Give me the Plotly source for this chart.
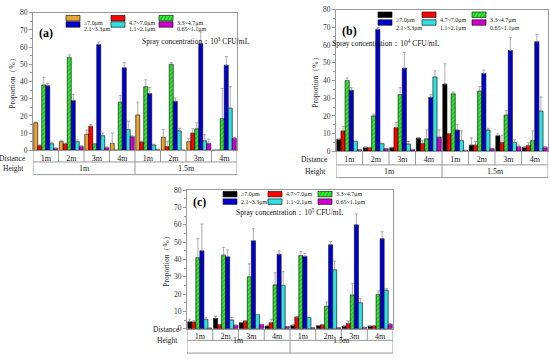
import plotly.graph_objects as go

distances = ["1m", "2m", "3m", "4m", "1m", "2m", "3m", "4m"]
heights = ["1m", "1.5m"]
series_names = ["≥7.0μm", "4.7~7.0μm", "3.3~4.7μm", "2.1~3.3μm", "1.1~2.1μm", "0.65~1.1μm"]

a_vals = [
    [16.0, 5.0, 9.3, 4.0, 20.5, 7.5, 5.0, 0.0],
    [2.7, 3.7, 14.0, 0.0, 4.8, 2.2, 10.0, 0.0],
    [38.0, 54.0, 3.7, 28.0, 37.0, 50.0, 12.5, 18.5],
    [37.5, 29.0, 61.5, 48.0, 33.0, 28.5, 62.0, 49.5],
    [3.8, 5.0, 8.5, 12.0, 3.0, 11.3, 5.5, 24.5],
    [1.2, 2.2, 1.5, 8.0, 0.5, 0.0, 4.0, 7.0],
]
a_err = [
    [0.5, 0.8, 2.5, 6.0, 7.5, 4.5, 2.0, 0.0],
    [0.5, 0.5, 1.0, 0.0, 0.5, 3.0, 2.5, 0.0],
    [4.5, 1.5, 0.0, 4.0, 4.0, 1.0, 3.5, 17.5],
    [1.5, 3.5, 1.5, 3.0, 3.5, 2.0, 7.0, 5.0],
    [0.8, 1.0, 1.5, 5.0, 0.5, 1.5, 3.5, 12.5],
    [0.0, 0.5, 0.5, 0.5, 0.0, 0.0, 2.5, 0.5],
]
b_vals = [
    [6.8, 2.0, 2.0, 7.5, 38.0, 3.5, 8.8, 2.3],
    [11.5, 2.0, 13.3, 4.5, 10.0, 3.5, 5.0, 3.3],
    [40.0, 20.0, 32.0, 7.0, 32.5, 34.0, 20.5, 6.0],
    [34.5, 69.0, 47.0, 30.5, 12.0, 44.0, 57.0, 62.0],
    [5.5, 4.3, 4.0, 42.0, 6.0, 12.0, 5.0, 22.7],
    [0.8, 1.5, 1.0, 8.0, 0.5, 1.5, 2.5, 2.3],
]
b_err = [
    [0.0, 0.5, 0.3, 0.0, 11.5, 4.0, 1.0, 0.0],
    [2.5, 0.3, 3.0, 1.5, 0.0, 2.0, 4.0, 1.5],
    [1.5, 1.0, 4.0, 5.0, 1.0, 2.5, 2.5, 5.5],
    [1.5, 1.0, 9.0, 1.5, 3.0, 2.0, 7.5, 4.0],
    [0.3, 0.3, 1.5, 3.5, 5.5, 1.0, 1.5, 8.0],
    [0.0, 0.0, 0.0, 4.0, 0.0, 0.0, 1.0, 0.0],
]
c_vals = [
    [4.0, 6.0, 3.5, 1.5, 2.0, 1.8, 1.5, 1.5],
    [3.8, 2.3, 4.5, 3.5, 6.8, 2.3, 3.0, 1.5],
    [41.0, 42.5, 30.0, 25.3, 42.3, 13.0, 19.5, 19.8],
    [45.0, 41.5, 50.8, 43.0, 41.8, 48.5, 60.0, 52.0],
    [5.3, 5.0, 8.2, 25.0, 6.5, 34.0, 15.0, 22.3],
    [0.3, 2.0, 2.5, 1.3, 0.5, 0.5, 0.8, 2.5],
]
c_err = [
    [1.5, 1.3, 0.0, 0.5, 0.0, 0.0, 0.0, 0.0],
    [0.8, 0.0, 0.0, 2.0, 0.0, 0.0, 1.5, 0.3],
    [11.0, 4.5, 7.5, 7.0, 2.3, 2.5, 6.5, 2.0],
    [15.5, 4.0, 7.0, 2.0, 1.8, 1.8, 6.3, 4.0],
    [1.3, 1.5, 0.0, 8.0, 0.0, 5.0, 2.3, 1.0],
    [0.0, 0.0, 0.0, 0.0, 0.0, 0.0, 0.0, 0.5],
]
panel_labels = ["(a)", "(b)", "(c)"]
concentrations = ["3", "4", "5"]
y_ticks = [0, 10, 20, 30, 40, 50, 60, 70, 80]

colors_a = ["#E8A334", "#FF0000", "#33E833", "#0000D0", "#33E0E0", "#D000D0"]
colors_bc = ["#000000", "#FF0000", "#33E833", "#0000D0", "#33E0E0", "#D000D0"]

W, H = 550, 361
def px(x):
    return x / W
def py(y):
    return 1 - y / H

FONT = "Liberation Serif"
GRID = "#999999"

panels = [
    dict(vals=a_vals, err=a_err, colors=colors_a, x0=33, x1=237, y0=9, y1=150, r1=162, r2=175,
         lab_right=28, leg=(33, 78, 126), legy=(14.5, 21), conc_xy=(140, 31)),
    dict(vals=b_vals, err=b_err, colors=colors_bc, x0=336, x1=548, y0=6, y1=151, r1=165, r2=178,
         lab_right=330, leg=(42, 86, 136), legy=(11, 19), conc_xy=(442, 33)),
    dict(vals=c_vals, err=c_err, colors=colors_bc, x0=187, x1=393, y0=191, y1=333, r1=345, r2=358,
         lab_right=182, leg=(36, 81, 131), legy=(195, 202.7), conc_xy=(289.5, 213)),
]

fig = go.Figure()
shapes = []
annotations = []
layout_axes = {}
n = len(distances)
xs = list(range(n))

for p, pan in enumerate(panels):
    sfx = "" if p == 0 else str(p + 1)
    xa, ya = "x" + sfx, "y" + sfx
    for s, name in enumerate(series_names):
        marker = dict(color=pan["colors"][s], line=dict(color="#000000", width=0.6))
        if s == 2:
            marker["pattern"] = dict(shape="/", fgcolor="#138813", size=3, solidity=0.35)
        fig.add_trace(go.Bar(
            x=xs, y=pan["vals"][s], name=name, xaxis=xa, yaxis=ya, showlegend=False,
            marker=marker,
            error_y=dict(type="data", array=pan["err"][s], arrayminus=[0] * n, symmetric=False,
                         color="#8a8a8a", thickness=0.7, width=1.5),
        ))
    layout_axes["xaxis" + sfx] = dict(
        domain=[px(pan["x0"]), px(pan["x1"])], anchor=ya, range=[-0.5, n - 0.5],
        tickvals=xs, ticktext=distances, ticks="", showline=True, mirror=True,
        linecolor=GRID, linewidth=1, showgrid=False, zeroline=False,
        tickfont=dict(family=FONT, size=8, color="#222"), fixedrange=True,
    )
    layout_axes["yaxis" + sfx] = dict(
        domain=[py(pan["y1"]), py(pan["y0"])], anchor=xa, range=[0, 80],
        tickvals=y_ticks, ticks="outside", ticklen=3, tickcolor=GRID,
        minor=dict(ticks="outside", ticklen=2, dtick=5, tickcolor=GRID),
        showline=True, mirror=True, linecolor=GRID, linewidth=1, showgrid=False, zeroline=False,
        tickfont=dict(family=FONT, size=7.5, color="#333"),
        title=dict(text="Proportion（%）", font=dict(family=FONT, size=7.5, color="#333"), standoff=3),
        fixedrange=True,
    )
    yb, r1, r2 = py(pan["y1"]), py(pan["r1"]), py(pan["r2"])
    line = dict(color=GRID, width=1)
    for xv in (-0.5, n - 0.5):
        shapes.append(dict(type="line", xref=xa, yref="paper", x0=xv, x1=xv, y0=yb, y1=r2, line=line))
    for yv in (r1, r2):
        shapes.append(dict(type="line", xref=xa, yref="paper", x0=-0.5, x1=n - 0.5, y0=yv, y1=yv, line=line))
    half = n // len(heights)
    for i in range(n - 1):
        y_end = r2 if (i + 1) % half == 0 else r1
        shapes.append(dict(type="line", xref=xa, yref="paper", x0=i + 0.5, x1=i + 0.5, y0=yb, y1=y_end, line=line))
    for h, hl in enumerate(heights):
        annotations.append(dict(text=hl, xref=xa, yref="paper", x=h * half + (half - 1) / 2,
                                y=(r1 + r2) / 2, showarrow=False, font=dict(family=FONT, size=8, color="#222")))
    annotations.append(dict(text="Distance", xref="paper", yref="paper", x=px(pan["lab_right"]), xanchor="right",
                            y=py(pan["y1"] + 8), showarrow=False, font=dict(family=FONT, size=7.5, color="#222")))
    annotations.append(dict(text="Height", xref="paper", yref="paper", x=px(pan["lab_right"] - 2), xanchor="right",
                            y=(r1 + r2) / 2, showarrow=False, font=dict(family=FONT, size=7.5, color="#222")))
    annotations.append(dict(text="<b>" + panel_labels[p] + "</b>", xref="paper", yref="paper",
                            x=px(pan["x0"] + 4), xanchor="left", y=py(pan["y0"] + 12), showarrow=False,
                            font=dict(family=FONT, size=12, color="#000")))
    annotations.append(dict(text="Spray concentration：10<sup>" + concentrations[p] + "</sup> CFU/mL",
                            xref="paper", yref="paper", x=px(pan["conc_xy"][0]), y=py(pan["conc_xy"][1]),
                            showarrow=False, font=dict(family=FONT, size=7.5, color="#111")))
    for s, name in enumerate(series_names):
        col, row = s % 3, s // 3
        lx = pan["x0"] + pan["leg"][col]
        ly = pan["legy"][row]
        shapes.append(dict(type="rect", xref="paper", yref="paper", x0=px(lx), x1=px(lx + 14),
                           y0=py(ly + 2.8), y1=py(ly - 2.8), fillcolor=pan["colors"][s],
                           line=dict(color="#000", width=0.6)))
        if s == 2:
            for k in range(4):
                shapes.append(dict(type="line", xref="paper", yref="paper",
                                   x0=px(lx + 1 + 3.5 * k), x1=px(lx + 4 + 3.5 * k),
                                   y0=py(ly + 2.8), y1=py(ly - 2.8), line=dict(color="#138813", width=0.6)))
        annotations.append(dict(text=name, xref="paper", yref="paper", x=px(lx + 15.5), xanchor="left",
                                y=py(ly), showarrow=False, font=dict(family=FONT, size=6, color="#222")))

fig.update_layout(
    width=W, height=H, margin=dict(l=0, r=0, t=0, b=0),
    paper_bgcolor="white", plot_bgcolor="white",
    barmode="group", bargap=0.06, bargroupgap=0,
    shapes=shapes, annotations=annotations, **layout_axes,
)
fig.write_html("out.html", config={"displayModeBar": False},
               post_script="document.body.style.margin='0';document.body.style.overflow='hidden';")
